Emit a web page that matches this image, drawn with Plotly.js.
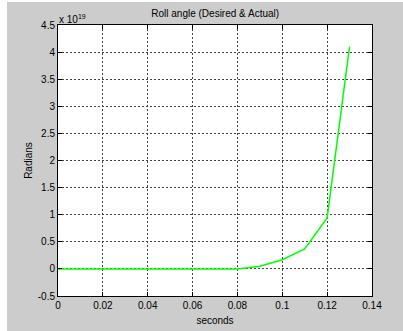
<!DOCTYPE html>
<html>
<head>
<meta charset="utf-8">
<script src="https://cdn.plot.ly/plotly-3.0.1.min.js"></script>
<style>
html,body{margin:0;padding:0;background:#fff;}
#bg{position:absolute;left:7px;top:2px;width:396px;height:329px;background:#cccccc;}
#plot{position:absolute;left:0;top:0;width:403px;height:331px;}
</style>
</head>
<body>
<div id="bg"></div>
<div id="plot"></div>
<script>
// time in seconds
var timeSec = [0, 0.01, 0.02, 0.03, 0.04, 0.05, 0.06, 0.07, 0.08, 0.09, 0.10, 0.11, 0.12, 0.13];
// roll angle, in units of 1e19 radians
var rollAngle = [0, 0, 0, 0, 0, 0, 0, 0, 0, 0.05, 0.17, 0.37, 0.94, 4.1];
var xTicks = [0, 0.02, 0.04, 0.06, 0.08, 0.1, 0.12, 0.14];
var xTickText = ['0', '0.02', '0.04', '0.06', '0.08', '0.1', '0.12', '0.14'];
var yTicks = [-0.5, 0, 0.5, 1, 1.5, 2, 2.5, 3, 3.5, 4, 4.5];
var yTickText = ['-0.5', '0', '0.5', '1', '1.5', '2', '2.5', '3', '3.5', '4', '4.5'];

var font = {family: 'Liberation Sans, Arial, sans-serif', size: 10, color: '#000'};

var trace = {
  x: timeSec, y: rollAngle, mode: 'lines', type: 'scatter',
  line: {color: '#00ff00', width: 1.5}, hoverinfo: 'none'
};

var axisCommon = {
  showline: true, linecolor: '#000', linewidth: 1, mirror: 'ticks',
  ticks: 'inside', ticklen: 4, tickcolor: '#000',
  showgrid: true, gridcolor: '#444', griddash: '2px,2px', gridwidth: 1,
  zeroline: false, tickfont: font, fixedrange: true
};

var layout = {
  width: 403, height: 331,
  margin: {l: 58, r: 31, t: 25, b: 35},
  paper_bgcolor: 'rgba(0,0,0,0)', plot_bgcolor: '#fff',
  showlegend: false,
  font: font,
  title: {text: 'Roll angle (Desired & Actual)', font: font, x: 0.534, xanchor: 'center', y: 0.96, yanchor: 'middle'},
  xaxis: Object.assign({}, axisCommon, {
    range: [0, 0.14], tickvals: xTicks, ticktext: xTickText,
    title: {text: 'seconds', font: font, standoff: 6}
  }),
  yaxis: Object.assign({}, axisCommon, {
    range: [-0.5, 4.5], tickvals: yTicks, ticktext: yTickText,
    title: {text: 'Radians', font: font, standoff: 3}
  }),
  annotations: [{
    xref: 'paper', yref: 'paper', x: 0, y: 1, xanchor: 'left', yanchor: 'bottom',
    text: 'x 10<sup>19</sup>', showarrow: false, font: font, xshift: -1, yshift: -2
  }]
};

Plotly.newPlot('plot', [trace], layout, {staticPlot: true, displayModeBar: false});
</script>
</body>
</html>
